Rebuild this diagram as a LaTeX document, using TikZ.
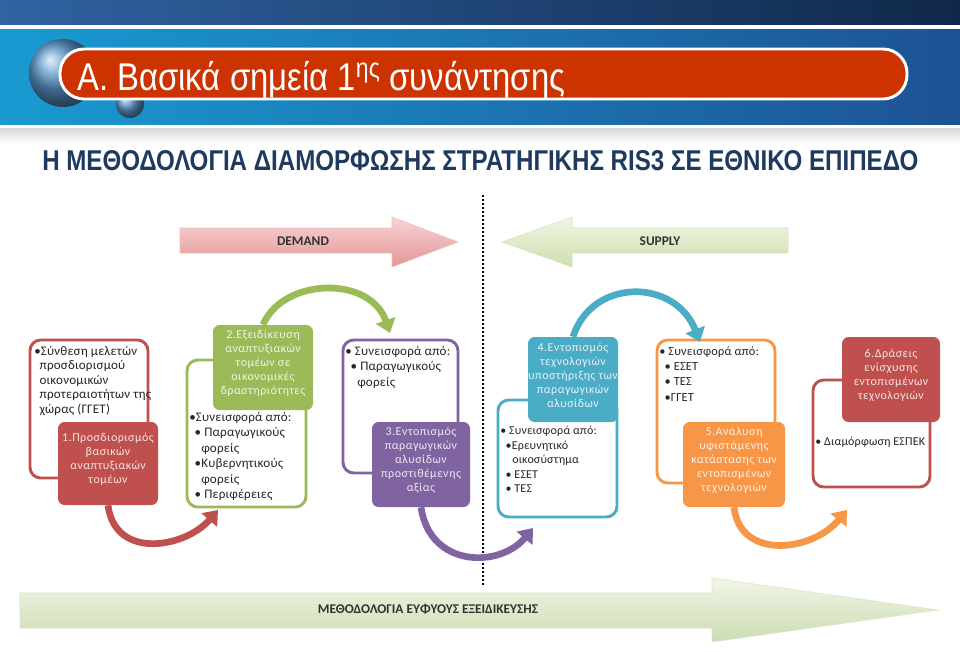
\documentclass[tikz,border=0pt]{standalone}
\usepackage{fontspec}
\usepackage{graphicx}
\setmainfont{Carlito}
\newfontfamily\headfont{Liberation Sans}
\newfontfamily\notefont{Carlito}[LetterSpace=1.5]
\newfontfamily\stagefont{Carlito}[LetterSpace=4]
\usetikzlibrary{arrows.meta,fit}

\definecolor{rsred}{HTML}{C0504D}
\definecolor{rsgreen}{HTML}{9BBB59}
\definecolor{rspurple}{HTML}{8064A2}
\definecolor{rsblue}{HTML}{4BACC6}
\definecolor{rsorange}{HTML}{F79646}
\definecolor{rsnavy}{HTML}{1F3A5F}
\definecolor{rspill}{HTML}{CC3300}

\newcommand\ind{\hspace*{4pt}}
\newcommand\iind{\hspace*{9pt}}

\begin{document}
\begin{tikzpicture}[
    x=0.75pt, y=-0.75pt,
    frame/.style={draw=#1, line width=2.2pt, rounded corners=8pt, inner sep=0pt},
    stage/.style={fill=#1, rounded corners=5pt, inner sep=0pt, align=center,
        text=white!85!#1, font=\stagefont\fontsize{9}{10.6}\selectfont},
    note/.style={anchor=north west, align=left, inner sep=0pt, text=black!85,
        font=\notefont\fontsize{9.8}{10.8}\selectfont},
    flow/.style={line width=5pt, -{Triangle[length=10pt,width=15pt]}},
    tag/.style={inner sep=0pt, text=black!80, font=\bfseries\fontsize{10}{12}\selectfont}
]
\useasboundingbox (0,0) rectangle (960,651);
\fill[white] (0,0) rectangle (960,651);

% Header
\shade[left color={rgb,255:red,47;green,99;blue,162}, right color={rgb,255:red,16;green,40;blue,74}]
    (0,0) rectangle (960,24);
\shade[left color={rgb,255:red,26;green,154;blue,210}, right color={rgb,255:red,29;green,82;blue,147}]
    (0,29) rectangle (960,124);
\shade[top color=black!15, bottom color=white] (0,128) rectangle (960,144);
\shade[ball color={rgb,255:red,90;green,150;blue,200}] (63,73) circle (34);
\shade[ball color={rgb,255:red,90;green,150;blue,200}] (130,104) circle (14);
\draw[fill=rspill, draw=white, line width=2.2pt, rounded corners=18pt] (60,49) rectangle (907,99);
\node[anchor=base west, inner sep=0pt, text=white, font=\headfont\fontsize{29}{29}\selectfont]
    (title) at (77,90) {\scalebox{0.85}[1]{Α. Βασικά σημεία 1\textsuperscript{ης} συνάντησης}};
\node[anchor=base west, inner sep=0pt, text=rsnavy, font=\headfont\bfseries]
    (subtitle) at (42,170) {\resizebox{657pt}{15pt}{Η ΜΕΘΟΔΟΛΟΓΙΑ ΔΙΑΜΟΡΦΩΣΗΣ ΣΤΡΑΤΗΓΙΚΗΣ RIS3 ΣΕ ΕΘΝΙΚΟ ΕΠΙΠΕΔΟ}};

% Demand / supply arrows
\shade[top color={rgb,255:red,248;green,212;blue,212}, bottom color={rgb,255:red,226;green,150;blue,150}, draw=rsred!35]
    (180,228) -- (392,228) -- (392,217) -- (458,242) -- (392,267) -- (392,253) -- (180,253) -- cycle;
\node[tag] (demand) at (303,241) {DEMAND};
\shade[top color={rgb,255:red,240;green,246;blue,228}, bottom color={rgb,255:red,205;green,222;blue,174}, draw=rsgreen!40]
    (788,228) -- (572,228) -- (572,217) -- (502,242) -- (572,267) -- (572,253) -- (788,253) -- cycle;
\node[tag] (supply) at (660,241) {SUPPLY};

% Divider
\coordinate (dtop) at (483,195);
\coordinate (dbot) at (483,585);
\draw[line width=1.6pt, dash pattern=on 1.6pt off 1.4pt] (dtop) -- (dbot);

% Frames
\node[frame=rsred, fit={(30,340) (148,478)}] (o1) {};
\node[frame=rsgreen, fit={(187,360) (306,507)}] (o2) {};
\node[frame=rspurple, fit={(343,340) (458,473)}] (o3) {};
\node[frame=rsblue, fit={(498,400) (617,517)}] (o4) {};
\node[frame=rsorange, fit={(657,340) (775,483)}] (o5) {};
\node[frame=rsred, fit={(813,380) (930,487)}] (o6) {};

% Contributions
\node[note] (t1) at (34,346) {•Σύνθεση μελετών\\ \ind προσδιορισμού\\ \ind οικονομικών\\
    \ind προτεραιοτήτων της\\ \ind χώρας (ΓΓΕΤ)};
\node[note, font=\notefont\fontsize{9.8}{11.6}\selectfont] (t2) at (189,412) {•Συνεισφορά από:\\
    \ind• Παραγωγικούς\\ \iind φορείς\\ \ind•Κυβερνητικούς\\ \iind φορείς\\ \ind• Περιφέρειες};
\node[note, font=\notefont\fontsize{9.8}{11.6}\selectfont] (t3) at (345,346) {• Συνεισφορά από:\\
    \ind• Παραγωγικούς\\ \iind φορείς};
\node[note, font=\notefont\fontsize{9}{10.9}\selectfont] (t4) at (500,426) {• Συνεισφορά από:\\
    \ind•Ερευνητικό\\ \iind οικοσύστημα\\ \ind• ΕΣΕΤ\\ \ind• ΤΕΣ};
\node[note, font=\notefont\fontsize{9.3}{11.5}\selectfont] (t5) at (659,346) {• Συνεισφορά από:\\
    \ind• ΕΣΕΤ\\ \ind• ΤΕΣ\\ \ind•ΓΓΕΤ};
\node[note, font=\notefont\fontsize{9}{11}\selectfont] (t6) at (815,437) {• Διαμόρφωση ΕΣΠΕΚ};

% Stages
\node[stage=rsred, fit={(58,422) (158,505)}] (b1) {1.Προσδιορισμός\\βασικών\\αναπτυξιακών\\τομέων};
\node[stage=rsgreen, fit={(213,325) (313,410)}] (b2) {2.Εξειδίκευση\\αναπτυξιακών\\τομέων σε\\οικονομικές\\δραστηριότητες};
\node[stage=rspurple, fit={(372,422) (470,507)}] (b3) {3.Εντοπισμός\\παραγωγικών\\αλυσίδων\\προστιθέμενης\\αξίας};
\node[stage=rsblue, fit={(528,337) (618,422)}] (b4) {4.Εντοπισμός\\τεχνολογιών\\υποστήριξης των\\παραγωγικών\\αλυσίδων};
\node[stage=rsorange, fit={(683,422) (785,507)}] (b5) {5.Ανάλυση\\υφιστάμενης\\κατάστασης των\\εντοπισμένων\\τεχνολογιών};
\node[stage=rsred, fit={(842,337) (940,422)}] (b6) {6.Δράσεις\\ενίσχυσης\\εντοπισμένων\\τεχνολογιών};

% Flow between stages
\coordinate (r12) at (218,510);
\coordinate (g23) at (390,333);
\coordinate (p34) at (533,528);
\coordinate (c45) at (700,342);
\coordinate (o56) at (847,510);
\draw[flow, rsred] (b1.south) .. controls +(7,55) and +(-33,38) .. (r12);
\draw[flow, rsgreen] (b2.north) .. controls +(20,-47) and +(-20,-58) .. (g23);
\draw[flow, rspurple] (b3.south) .. controls +(9,61) and +(-33,40) .. (p34);
\draw[flow, rsblue] (b4.north) .. controls +(19,-59) and +(-25,-64) .. (c45);
\draw[flow, rsorange] (b5.south) .. controls +(6,53) and +(-35,42) .. (o56);

% Methodology arrow
\shade[top color={rgb,255:red,240;green,246;blue,230}, bottom color={rgb,255:red,204;green,220;blue,178}, draw=rsgreen!35]
    (20,593) -- (712,593) -- (712,578) -- (938,610) -- (712,642) -- (712,628) -- (20,628) -- cycle;
\node[tag] (method) at (428,609) {ΜΕΘΟΔΟΛΟΓΙΑ ΕΥΦΥΟΥΣ ΕΞΕΙΔΙΚΕΥΣΗΣ};

\end{tikzpicture}
\end{document}
